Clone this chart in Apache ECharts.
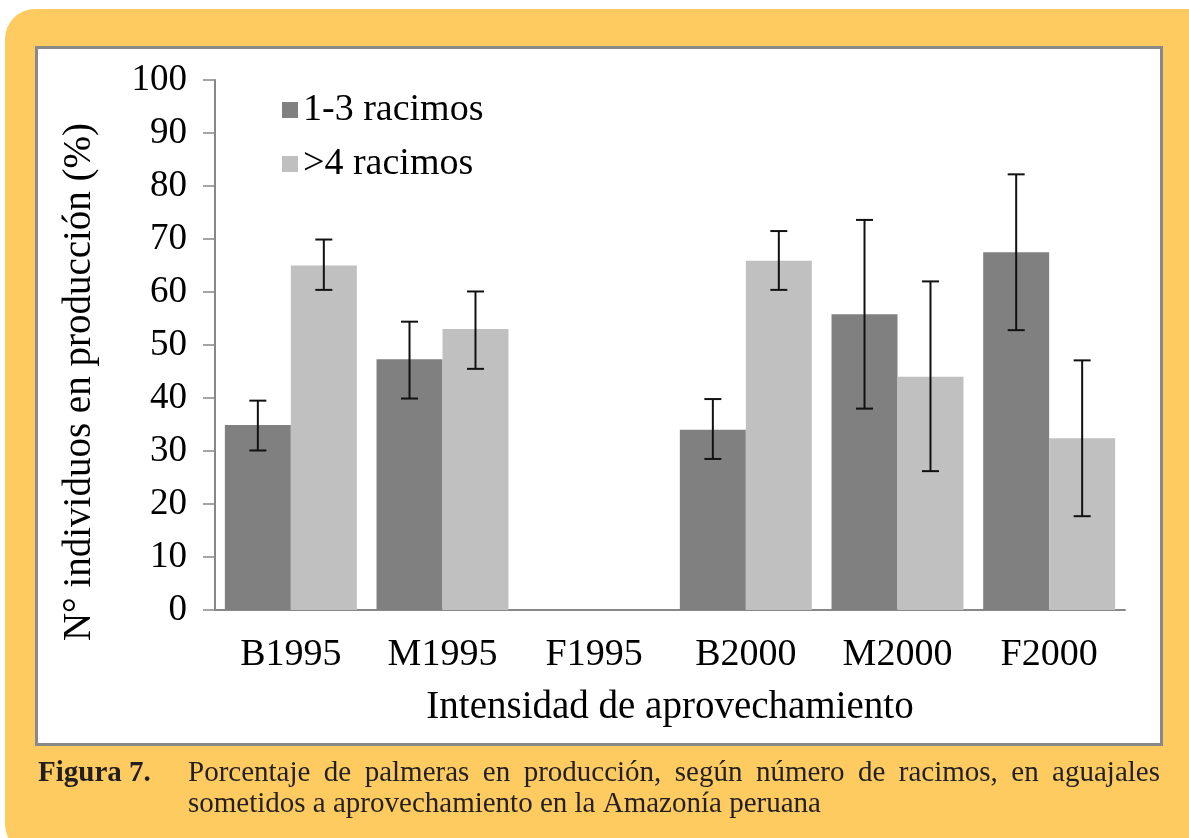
<!DOCTYPE html>
<html>
<head>
<meta charset="utf-8">
<script src="https://cdn.jsdelivr.net/npm/echarts@6/dist/echarts.min.js"></script>
<style>
html,body{margin:0;padding:0;background:#ffffff;}
#chart{width:1189px;height:838px;}
</style>
</head>
<body>
<div id="chart"></div>
<script>
// ---- data ----
const categories = ['B1995', 'M1995', 'F1995', 'B2000', 'M2000', 'F2000'];
const seriesNames = ['1-3 racimos', '>4 racimos'];
const low = [34.9, 47.3, null, 34.0, 55.8, 67.5];          // 1-3 racimos
const high = [65.0, 53.0, null, 65.9, 44.0, 32.4];         // >4 racimos
const lowErrMin = [30.1, 39.9, null, 28.5, 38.0, 52.8];
const lowErrMax = [39.5, 54.4, null, 39.8, 73.6, 82.2];
const highErrMin = [60.4, 45.5, null, 60.4, 26.2, 17.7];
const highErrMax = [69.9, 60.1, null, 71.5, 62.0, 47.1];
const yTicks = {min: 0, max: 100, interval: 10};
const xAxisTitle = 'Intensidad de aprovechamiento';
const yAxisTitle = 'N° individuos en producción (%)';
const captionLabel = 'Figura 7.';
const captionLine1 = 'Porcentaje de palmeras en producción, según número de racimos, en aguajales';
const captionLine2 = 'sometidos a aprovechamiento en la Amazonía peruana';

const SERIF = 'Liberation Serif';
const CAT_GAP = 0.13;

function errData(mins, maxs) {
  const out = [];
  for (let i = 0; i < categories.length; i++) {
    if (mins[i] != null && maxs[i] != null) out.push([i, mins[i], maxs[i]]);
  }
  return out;
}

function errRender(sign) {
  return function (params, api) {
    const idx = api.value(0);
    const base = api.coord([idx, api.value(1)]);
    const top = api.coord([idx, api.value(2)]);
    const band = api.size([1, 0])[0];
    const bw = band * (1 - CAT_GAP) / 2;
    const cx = base[0] + sign * bw / 2;
    const cap = 8.5;
    const style = {stroke: '#111111', lineWidth: 2};
    return {
      type: 'group',
      children: [
        {type: 'line', shape: {x1: cx, y1: top[1], x2: cx, y2: base[1]}, style: style},
        {type: 'line', shape: {x1: cx - cap, y1: top[1], x2: cx + cap, y2: top[1]}, style: style},
        {type: 'line', shape: {x1: cx - cap, y1: base[1], x2: cx + cap, y2: base[1]}, style: style}
      ]
    };
  };
}

// justified caption line built from measured words
function measure(text, font) {
  const c = document.createElement('canvas').getContext('2d');
  c.font = font;
  return c.measureText(text).width;
}
const capFont = '29px "' + SERIF + '"';
const capX0 = 188, capX1 = 1160;
const words1 = captionLine1.split(' ');
const wordWidths = words1.map(w => measure(w, capFont));
const totalW = wordWidths.reduce((a, b) => a + b, 0);
const gapW = (capX1 - capX0 - totalW) / (words1.length - 1);
const captionGraphics = [];
let cursor = capX0;
words1.forEach((w, i) => {
  captionGraphics.push({
    type: 'text', left: cursor, top: 759, z: 10,
    style: {text: w, font: capFont, fill: '#231f20'}
  });
  cursor += wordWidths[i] + gapW;
});
captionGraphics.push({
  type: 'text', left: capX0, top: 790, z: 10,
  style: {text: captionLine2, font: capFont, fill: '#231f20'}
});
captionGraphics.push({
  type: 'text', left: 38, top: 759, z: 10,
  style: {text: captionLabel, font: 'bold 29px "' + SERIF + '"', fill: '#231f20'}
});

const chart = echarts.init(document.getElementById('chart'), null, {renderer: 'canvas'});
chart.setOption({
  backgroundColor: 'transparent',
  animation: false,
  textStyle: {fontFamily: SERIF},
  graphic: [
    {type: 'rect', z: -20, shape: {x: 5, y: 9, width: 1215, height: 845, r: 30},
      style: {fill: '#fdcb5f'}},
    {type: 'rect', z: -10, shape: {x: 36.5, y: 47.5, width: 1125, height: 697},
      style: {fill: '#ffffff', stroke: '#898989', lineWidth: 3}}
  ].concat(captionGraphics),
  grid: {left: 215, right: 64, top: 80, bottom: 228, containLabel: false},
  legend: {
    data: seriesNames,
    orient: 'vertical',
    left: 277, top: 86,
    itemWidth: 16, itemHeight: 16,
    itemGap: 16,
    icon: 'rect',
    textStyle: {fontFamily: 'Liberation Serif', fontSize: 38, fontWeight: 'normal', color: '#000'}
  },
  xAxis: {
    type: 'category',
    data: categories,
    name: xAxisTitle,
    nameLocation: 'middle',
    nameGap: 78,
    nameTextStyle: {fontFamily: SERIF, fontSize: 39, color: '#000'},
    axisLine: {lineStyle: {color: '#888888', width: 2}},
    axisTick: {length: 12, lineStyle: {color: '#888888', width: 1.5}},
    axisLabel: {fontFamily: SERIF, fontSize: 38, color: '#000', margin: 26}
  },
  yAxis: {
    type: 'value',
    min: yTicks.min, max: yTicks.max, interval: yTicks.interval,
    name: yAxisTitle,
    nameLocation: 'middle',
    nameGap: 116,
    nameTextStyle: {fontFamily: SERIF, fontSize: 39, color: '#000', padding: [0, 74, 0, 0]},
    axisLine: {show: true, lineStyle: {color: '#888888', width: 2}},
    axisTick: {show: true, length: 12, lineStyle: {color: '#888888', width: 1.5}},
    splitLine: {show: false},
    axisLabel: {fontFamily: SERIF, fontSize: 37, color: '#000', margin: 28}
  },
  series: [
    {name: seriesNames[0], type: 'bar', data: low, barGap: '0%', barCategoryGap: (CAT_GAP * 100) + '%',
      itemStyle: {color: '#808080'}},
    {name: seriesNames[1], type: 'bar', data: high, barGap: '0%', barCategoryGap: (CAT_GAP * 100) + '%',
      itemStyle: {color: '#c0c0c0'}},
    {type: 'custom', name: 'err1', data: errData(lowErrMin, lowErrMax), renderItem: errRender(-1),
      encode: {x: 0, y: [1, 2]}, z: 5, silent: true},
    {type: 'custom', name: 'err2', data: errData(highErrMin, highErrMax), renderItem: errRender(1),
      encode: {x: 0, y: [1, 2]}, z: 5, silent: true}
  ]
});
</script>
</body>
</html>
